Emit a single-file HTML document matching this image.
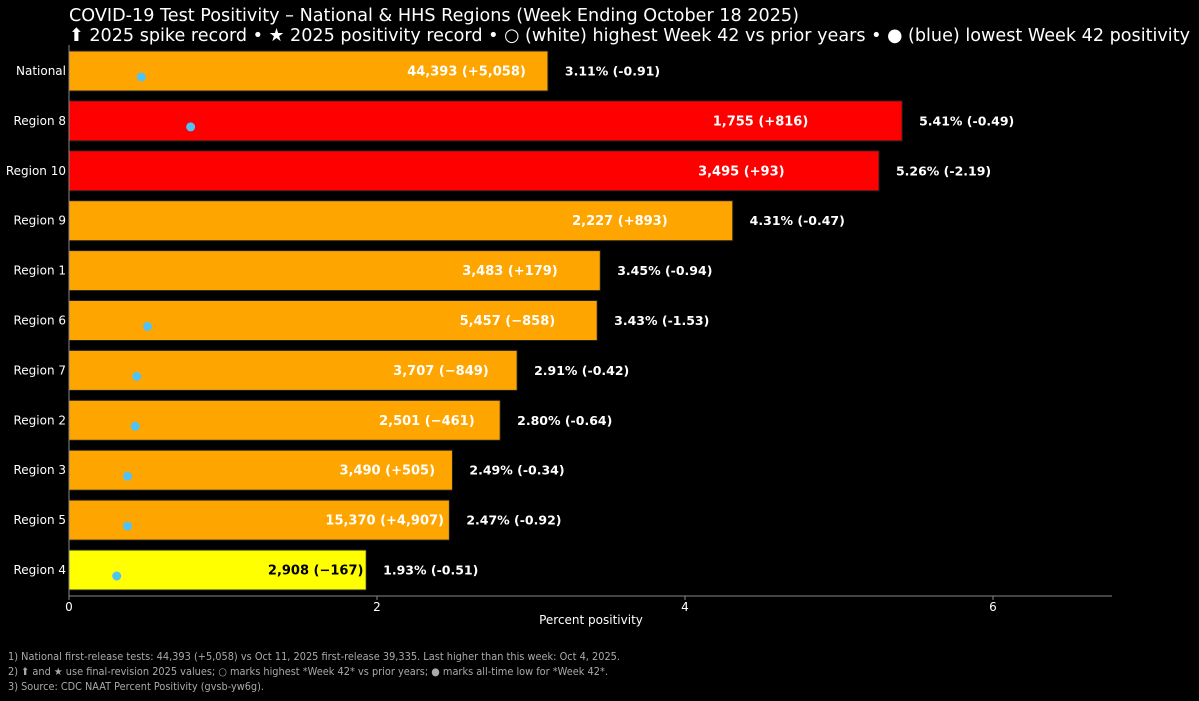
<!DOCTYPE html>
<html><head><meta charset="utf-8"><style>
body{margin:0;background:#000;width:1199px;height:697px;overflow:hidden;font-family:"DejaVu Sans","Liberation Sans",sans-serif}
svg text{font-family:"DejaVu Sans","Liberation Sans",sans-serif}
</style></head><body>
<svg id="c" width="1199" height="697">
<text x="69" y="21" fill="#fff" font-size="18" textLength="730" lengthAdjust="spacingAndGlyphs">COVID-19 Test Positivity – National &amp; HHS Regions (Week Ending October 18 2025)</text>
<text x="69" y="41" fill="#fff" font-size="18" textLength="1121" lengthAdjust="spacingAndGlyphs">⬆ 2025 spike record • ★ 2025 positivity record • ○ (white) highest Week 42 vs prior years • ● (blue) lowest Week 42 positivity</text>
<g id="plot"></g>
<text x="591" y="624" fill="#fff" font-size="12" text-anchor="middle">Percent positivity</text>
<text x="8" y="660" fill="#aaa" font-size="10.5" textLength="612" lengthAdjust="spacingAndGlyphs">1) National first-release tests: 44,393 (+5,058) vs Oct 11, 2025 first-release 39,335. Last higher than this week: Oct 4, 2025.</text>
<text x="8" y="675" fill="#aaa" font-size="10.5" textLength="600" lengthAdjust="spacingAndGlyphs">2) ⬆ and ★ use final-revision 2025 values; ○ marks highest *Week 42* vs prior years; ● marks all-time low for *Week 42*.</text>
<text x="8" y="690" fill="#aaa" font-size="10.5" textLength="256" lengthAdjust="spacingAndGlyphs">3) Source: CDC NAAT Percent Positivity (gvsb-yw6g).</text>
</svg>
<script>
const categories=["National","Region 8","Region 10","Region 9","Region 1","Region 6","Region 7","Region 2","Region 3","Region 5","Region 4"];
const positivity=[3.11,5.41,5.26,4.31,3.45,3.43,2.91,2.80,2.49,2.47,1.93];
const changes=["-0.91","-0.49","-2.19","-0.47","-0.94","-1.53","-0.42","-0.64","-0.34","-0.92","-0.51"];
const testLabels=["44,393 (+5,058)","1,755 (+816)","3,495 (+93)","2,227 (+893)","3,483 (+179)","5,457 (−858)","3,707 (−849)","2,501 (−461)","3,490 (+505)","15,370 (+4,907)","2,908 (−167)"];
const barColors=["#FFA500","#FF0000","#FF0000","#FFA500","#FFA500","#FFA500","#FFA500","#FFA500","#FFA500","#FFA500","#FFFF00"];
const lowDots=[0.47,0.79,null,null,null,0.51,0.44,0.43,0.38,0.38,0.31];
const xTicks=[0,2,4,6];
const NS="http://www.w3.org/2000/svg";
const g=document.getElementById('plot');
const x=v=>69+v*154;
const y=i=>71+i*49.9;
function mk(t,a){const e=document.createElementNS(NS,t);for(const k in a)e.setAttribute(k,a[k]);g.appendChild(e);return e;}
categories.forEach((c,i)=>{
 const b=mk('rect',{x:x(0),y:y(i)-20,width:x(positivity[i])-x(0),height:40,fill:barColors[i],stroke:'#222','stroke-width':1});
 
 
 const l=mk('text',{x:66,y:y(i)+4,fill:'#fff','font-size':12,'text-anchor':'end'});l.textContent=c;
 
 
 const t=mk('text',{x:x(positivity[i]*0.83),y:y(i)+4.5,fill:i==10?'#000':'#fff','font-size':13,'font-weight':'bold','text-anchor':'middle'});t.textContent=testLabels[i];
 
 
 const o=mk('text',{x:x(positivity[i]+0.11),y:y(i)+4.5,fill:'#fff','font-size':12.5,'font-weight':'bold'});o.textContent=positivity[i].toFixed(2)+'% ('+changes[i]+')';
 
 
 if(lowDots[i]!=null){const d=mk('circle',{cx:x(lowDots[i]),cy:y(i)+6,r:4.5,fill:'#4FC3F7'});
 
 }
});
mk('line',{x1:69,x2:69,y1:45,y2:596,stroke:'#888'});
mk('line',{x1:69,x2:1112,y1:596,y2:596,stroke:'#888'});
xTicks.forEach(v=>{mk('line',{x1:x(v),x2:x(v),y1:596,y2:600,stroke:'#888'});
 const t=mk('text',{x:x(v),y:611,fill:'#fff','font-size':12,'text-anchor':'middle'});t.textContent=v;
 
 });
</script>
</body></html>
